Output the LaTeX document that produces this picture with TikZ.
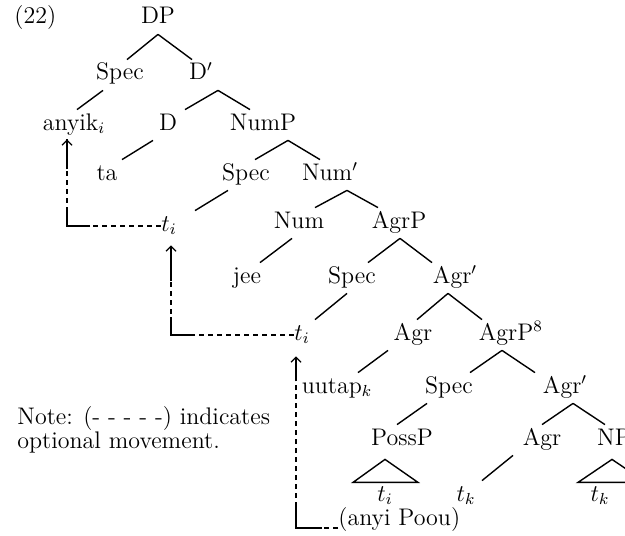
\documentclass[tikz,border=0pt]{standalone}
\usetikzlibrary{calc,arrows.meta}
\newcommand{\branch}[4]{\draw[branch] ($(#1.south)+(#2,0)$) -- ($(#3.north)+(#4,0)$);}
\tikzset{
  cat/.style={inner xsep=0pt, inner ysep=3pt, text height=7pt, text depth=2pt},
  branch/.style={line width=0.7pt},
  optional/.style={line width=0.6pt, dash pattern=on 2.5pt off 2pt},
  moved/.style={line width=0.6pt},
  movetip/.style={line width=0.6pt, -{Straight Barb[length=2.5pt,width=5pt]}},
}
\begin{document}
\begin{tikzpicture}[x=0.5pt,y=-0.5pt,font=\fontsize{12}{13}\selectfont]
\useasboundingbox (0,0) rectangle (625,535);
\clip (0,0) rectangle (625,535);
% example number
\node[cat,anchor=west] (ex) at (14,19) {(22)};
% tree nodes
\node[cat] (DP) at (158,19) {DP};
\node[cat] (SpecD) at (120,75) {Spec};
\node[cat] (Dbar) at (201,75) {D$'$};
\node[cat] (anyik) at (74,125) {anyik$_i$};
\node[cat] (D) at (168,125) {D};
\node[cat] (NumP) at (263,125) {NumP};
\node[cat] (ta) at (107,175) {ta};
\node[cat] (SpecNum) at (246,175) {Spec};
\node[cat] (Numbar) at (330,175) {Num$'$};
\node[cat] (ti1) at (169,226) {$t_i$};
\node[cat] (Num) at (299,223) {Num};
\node[cat] (AgrP) at (399,223) {AgrP};
\node[cat] (jee) at (247,278) {jee};
\node[cat] (SpecAgr) at (352,278) {Spec};
\node[cat] (Agrbar) at (455,278) {Agr$'$};
\node[cat] (ti2) at (302,335) {$t_i$};
\node[cat] (Agr) at (413,335) {Agr};
\node[cat] (AgrPb) at (506,335) {AgrP\rlap{$^{8}$}};
\node[cat] (uutap) at (337,388) {uutap$_k$};
\node[cat] (SpecAgrb) at (449,388) {Spec};
\node[cat] (Agrbarb) at (565,388) {Agr$'$};
\node[cat] (PossP) at (402,440) {PossP};
\node[cat] (Agrb) at (542,440) {Agr};
\node[cat] (NP) at (614,440) {NP};
\node[cat] (ti3) at (385,496) {$t_i$};
\node[cat] (tk1) at (466,496) {$t_k$};
\node[cat] (tk2) at (600,496) {$t_k$};
\node[cat,anchor=west] (anyi) at (338,520) {(anyi Poou)};
% note
\node[anchor=west,align=left,inner sep=0pt,font=\fontsize{12}{11.8}\selectfont] (note) at (17,430)
  {Note: (- - - - -) indicates\\optional movement.};
% branches
\branch{DP}{0}{SpecD}{7}
\branch{DP}{0}{Dbar}{-9}
\branch{Dbar}{17}{D}{17}
\branch{Dbar}{17}{NumP}{-13}
\branch{SpecD}{-17}{anyik}{3}
\branch{D}{-15}{ta}{15}
\branch{NumP}{25}{SpecNum}{9}
\branch{NumP}{25}{Numbar}{-10}
\branch{SpecNum}{-18}{ti1}{26}
\branch{Numbar}{17}{Num}{16}
\branch{Numbar}{17}{AgrP}{-21}
\branch{Num}{-7}{jee}{13}
\branch{AgrP}{1}{SpecAgr}{16}
\branch{AgrP}{1}{Agrbar}{-23}
\branch{SpecAgr}{-5}{ti2}{13}
\branch{Agrbar}{-7}{Agr}{4}
\branch{Agrbar}{-7}{AgrPb}{-24}
\branch{AgrPb}{-4}{SpecAgrb}{21}
\branch{AgrPb}{-4}{Agrbarb}{-30}
\branch{Agr}{-25}{uutap}{21}
\branch{SpecAgrb}{-22}{PossP}{-5}
\branch{Agrbarb}{8}{Agrb}{0}
\branch{Agrbarb}{8}{NP}{-9}
\branch{Agrb}{-29}{tk1}{16}
% triangles
\draw[branch] ($(PossP.south)+(-17,4)$) -- ++(-32,23) -- ++(65,0) -- cycle;
\draw[branch] ($(NP.south)+(-2,4)$) -- ++(-34,23) -- ++(68,0) -- cycle;
% movement
\coordinate (c1) at (67,226);
\coordinate (tip1) at ($(c1 |- anyik.south)+(0,-1)$);
\draw[optional] (ti1.west) -- (c1) -- (tip1);
\draw[moved] ($(c1)+(23,0)$) -- (c1) -- ++(0,-18);
\draw[movetip] ($(tip1)+(0,30)$) -- (tip1);
\coordinate (c2) at (171,335);
\coordinate (tip2) at ($(c2 |- ti1.south)+(0,4)$);
\draw[optional] (ti2.west) -- (c2) -- (tip2);
\draw[moved] ($(c2)+(24,0)$) -- (c2) -- ++(0,-18);
\draw[movetip] ($(tip2)+(0,36)$) -- (tip2);
\coordinate (c3) at (296,528);
\coordinate (tip3) at ($(c3 |- ti2.south)+(0,6)$);
\draw[optional] (c3 -| anyi.west) -- (c3) -- (tip3);
\draw[moved] ($(c3)+(26,0)$) -- (c3) -- ++(0,-22);
\draw[movetip] ($(tip3)+(0,25)$) -- (tip3);
\end{tikzpicture}
\end{document}
